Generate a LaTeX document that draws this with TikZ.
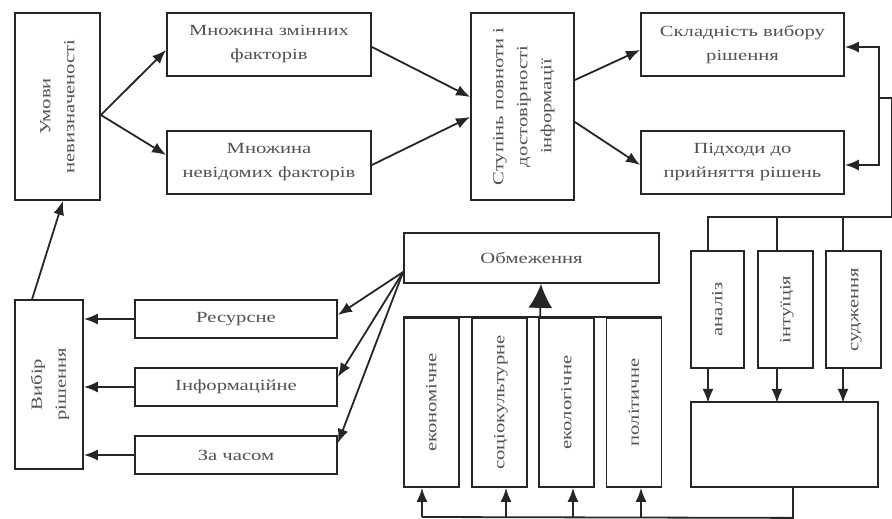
\documentclass[tikz,border=0pt]{standalone}
\usepackage{fontspec}
\setmainfont{Liberation Serif}
\newfontfamily\widefont[FakeStretch=1.33]{Liberation Serif}
\usetikzlibrary{arrows.meta,calc}
\newcommand{\rottext}[1]{\rotatebox{90}{\begin{tabular}{@{}c@{}}#1\end{tabular}}}
\begin{document}
\begin{tikzpicture}[x=1pt,y=-1pt,
  box/.style={draw=black!85, line width=1.8pt, inner sep=0pt, text=black!68,
    font=\widefont\fontsize{15.5}{24}\selectfont, align=center},
  conn/.style={draw=black!85, line width=1.8pt},
  arr/.style={conn, -{Latex[length=14pt,width=11pt]}},
  bigarr/.style={conn, -{Latex[length=24pt,width=24pt]}}]
\useasboundingbox (0,0) rectangle (892,519);
\fill[white] (0,0) rectangle (892,519);

% top row
\node[box, minimum width=85pt, minimum height=187pt] (umovy) at (57.5,106.5) {\rottext{Умови\\невизначеності}};
\node[box, minimum width=204pt, minimum height=63pt] (mzm) at (269,44.5) {Множина змінних\\факторів};
\node[box, minimum width=204pt, minimum height=63pt] (mnev) at (269,162.5) {Множина\\невідомих факторів};
\node[box, minimum width=103pt, minimum height=187pt] (stup) at (522.5,106.5) {\rottext{Ступінь повноти і\\достовірності\\інформації}};
\node[box, minimum width=203pt, minimum height=63pt] (skl) at (742.5,44.5) {Складність вибору\\рішення};
\node[box, minimum width=203pt, minimum height=63pt] (pidh) at (742.5,162.5) {Підходи до\\прийняття рішень};

% left lower part
\node[box, minimum width=68pt, minimum height=169pt] (vybir) at (49,384.5) {\rottext{Вибір\\рішення}};
\node[box, minimum width=202pt, minimum height=38pt] (res) at (236,319) {Ресурсне};
\node[box, minimum width=202pt, minimum height=38pt] (inf) at (236,387) {Інформаційне};
\node[box, minimum width=202pt, minimum height=38pt] (chas) at (236,455) {За часом};

% constraints
\node[box, minimum width=255pt, minimum height=50pt] (obm) at (531.5,258) {Обмеження};
\node[box, minimum width=55pt, minimum height=169pt] (ekon) at (431.5,402.5) {\rottext{економічне}};
\node[box, minimum width=55pt, minimum height=169pt] (soc) at (499.5,402.5) {\rottext{соціокультурне}};
\node[box, minimum width=55pt, minimum height=169pt] (ekol) at (566.5,402.5) {\rottext{екологічне}};
\node[box, minimum width=55pt, minimum height=169pt] (pol) at (634,402.5) {\rottext{політичне}};

% approaches
\node[box, minimum width=53pt, minimum height=117pt] (anal) at (717.5,309.5) {\rottext{аналіз}};
\node[box, minimum width=55pt, minimum height=117pt] (intu) at (785.5,309.5) {\rottext{інтуїція}};
\node[box, minimum width=55pt, minimum height=117pt] (sud) at (853.5,309.5) {\rottext{судження}};
\node[box, minimum width=187pt, minimum height=85pt] (big) at (784.5,444.5) {};

% connectors top row
\coordinate (uo) at ($(umovy.east)+(0,8.5)$);
\draw[arr] (uo) -- ($(mzm.west)+(0,5.5)$);
\draw[arr] (uo) -- ($(mnev.west)+(0,-7.5)$);
\draw[arr] ($(mzm.east)+(0,2.5)$) -- ($(stup.west)+(0,-9.5)$);
\draw[arr] ($(mnev.east)+(0,2.5)$) -- ($(stup.west)+(0,10.5)$);
\draw[arr] ($(stup.east)+(0,-26.5)$) -- ($(skl.west)+(0,5.5)$);
\draw[arr] ($(stup.east)+(0,15.5)$) -- ($(pidh.west)+(0,2.5)$);

% right bracket
\coordinate (rb) at (879,98);
\coordinate (re) at (892,98);
\coordinate (rbot) at (892,217);
\coordinate (hl) at (708,217);
\draw[arr] (rb) |- ($(skl.east)+(0,2.5)$);
\draw[arr] (rb) |- ($(pidh.east)+(0,2.5)$);
\draw[conn] (rb) -- (re) -- (rbot) -- (hl) -- ($(anal.north)+(-9.5,0)$);
\draw[conn] ($(intu.north)+(-8.5,0)$) -- ++(0,-34);
\draw[conn] ($(sud.north)+(-10.5,0)$) -- ++(0,-34);
\draw[arr] ($(anal.south)+(-9.5,0)$) -- ++(0,34);
\draw[arr] ($(intu.south)+(-8.5,0)$) -- ++(0,34);
\draw[arr] ($(sud.south)+(-10.5,0)$) -- ++(0,34);

% bottom loop
\coordinate (bb) at ($(big.south)+(8.5,30)$);
\coordinate (b1) at (422,517);
\coordinate (b2) at (506,517);
\coordinate (b3) at (573,517);
\coordinate (b4) at (641,517);
\draw[conn] ($(big.south)+(8.5,0)$) -- (bb) -- (b1);
\draw[arr] (b1) -- (b1 |- ekon.south);
\draw[arr] (b2) -- (b2 |- soc.south);
\draw[arr] (b3) -- (b3 |- ekol.south);
\draw[arr] (b4) -- (b4 |- pol.south);
\draw[conn] (ekon.north west) -- (pol.north east);
\draw[bigarr] ($(ekol.north west)+(2,0)$) -- ($(obm.south)+(9.5,0)$);

% constraints to kinds
\coordinate (ol) at ($(obm.west)+(0,14)$);
\draw[arr] (ol) -- ($(res.east)+(0,-4)$);
\draw[arr] (ol) -- ($(inf.east)+(0,-10)$);
\draw[arr] (ol) -- ($(chas.east)+(0,-12)$);
\draw[arr] (res.west) -- (res.west -| vybir.east);
\draw[arr] (inf.west) -- (inf.west -| vybir.east);
\draw[arr] (chas.west) -- (chas.west -| vybir.east);
\draw[arr] ($(vybir.north west)+(18,0)$) -- ($(umovy.south)+(5.5,0)$);
\end{tikzpicture}
\end{document}
